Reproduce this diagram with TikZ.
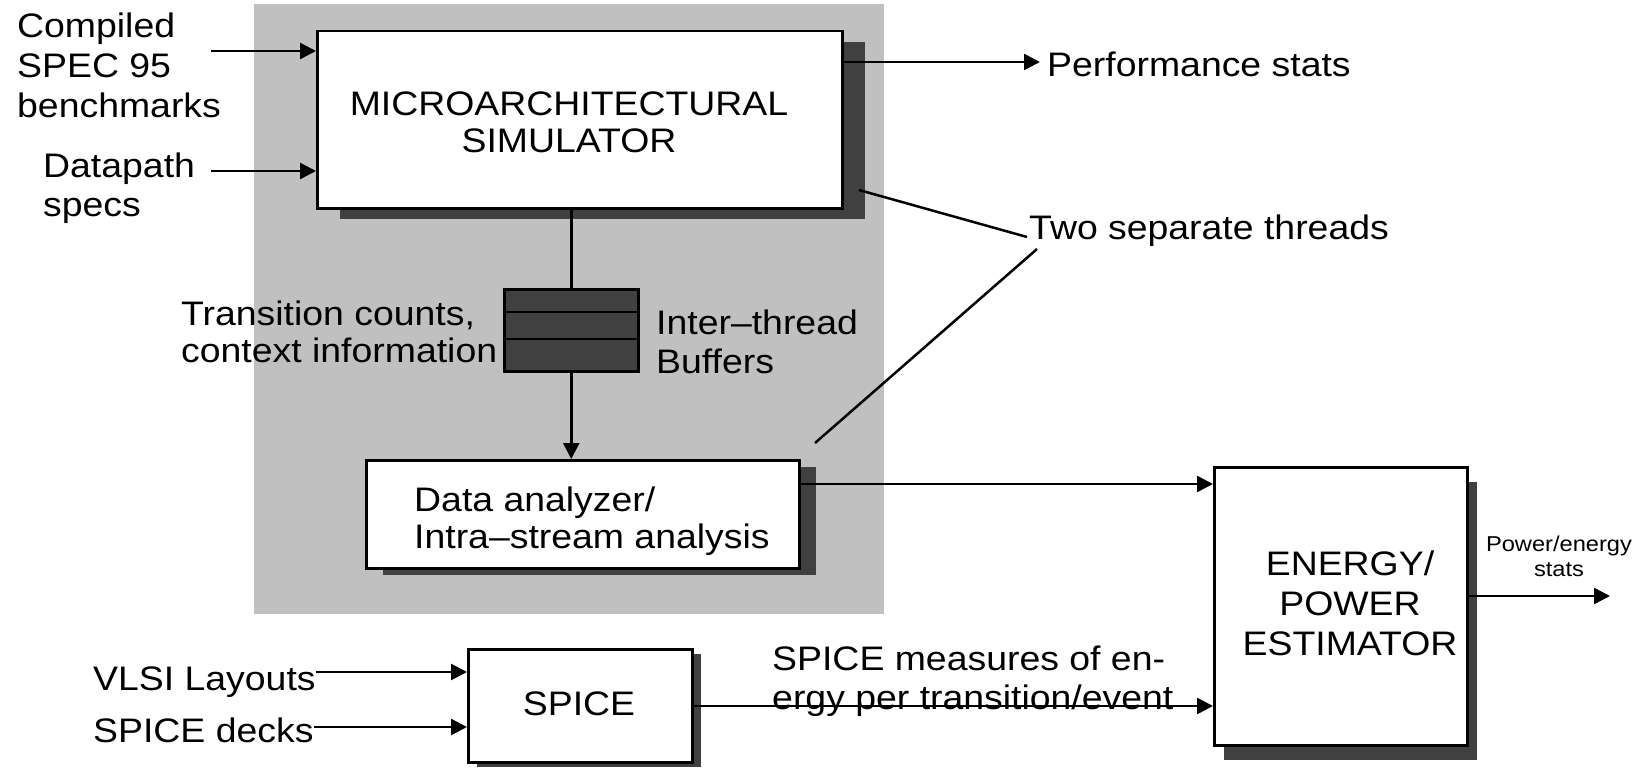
\documentclass[tikz,border=0pt]{standalone}
\usepackage{fontspec}
\setmainfont{Liberation Sans}[FakeStretch=1.1]
\usetikzlibrary{arrows.meta,shadows}
\definecolor{bggray}{HTML}{C0C0C0}
\definecolor{shadowc}{HTML}{404040}
\begin{document}
\begin{tikzpicture}[x=1pt,y=-1pt,
  box/.style={draw=black,fill=white,line width=2.5pt,inner sep=0pt,anchor=north west},
  lbl/.style={inner sep=0pt,font=\fontsize{34}{37}\selectfont,align=left,anchor=base west},
  clbl/.style={inner sep=0pt,font=\fontsize{34}{37}\selectfont,align=center,anchor=base},
  conn/.style={line width=2.5pt},
  arr/.style={line width=2.5pt,-{Triangle[length=16pt,width=16pt]}},
]
\useasboundingbox (0,0) rectangle (1646,768);
% background of the simulator thread region
\fill[bggray] (254,4) rectangle (884,614);

% boxes
\node[box,minimum width=525pt,minimum height=177pt,
  drop shadow={shadow xshift=23pt,shadow yshift=-11pt,opacity=1,fill=shadowc}] (micro) at (316,30) {};
\node[box,minimum width=433pt,minimum height=108pt,
  drop shadow={shadow xshift=17pt,shadow yshift=-7pt,opacity=1,fill=shadowc}] (data) at (365,459) {};
\node[box,minimum width=253pt,minimum height=278pt,
  drop shadow={shadow xshift=10pt,shadow yshift=-15pt,opacity=1,fill=shadowc}] (energy) at (1213,466) {};
\node[box,minimum width=224pt,minimum height=113pt,
  drop shadow={shadow xshift=9pt,shadow yshift=-5pt,opacity=1,fill=shadowc}] (spice) at (467,648) {};
\node[box,fill=shadowc,minimum width=134pt,minimum height=82pt] (buf) at (503,288) {};
\draw[conn] (503,312) -- (637,312);
\draw[conn] (503,339) -- (637,339);

% box texts (anchor = baseline of the last line)
\node[clbl] (microtxt) at (569,152) {MICROARCHITECTURAL\\SIMULATOR};
\node[lbl] (datatxt) at (414,548) {Data analyzer/\\Intra–stream analysis};
\node[clbl,font=\fontsize{34}{40}\selectfont] (energytxt) at (1350,655) {ENERGY/\\POWER\\ESTIMATOR};
\node[clbl] (spicetxt) at (579,715) {SPICE};

% labels
\node[lbl,font=\fontsize{34}{39.5}\selectfont] (compiled) at (17,117) {Compiled\\SPEC 95\\benchmarks};
\node[lbl,font=\fontsize{34}{39}\selectfont] (datapath) at (43,216) {Datapath\\specs};
\node[lbl] (trans) at (181,362) {Transition counts,\\context information};
\node[lbl,font=\fontsize{34}{39}\selectfont] (inter) at (656,373) {Inter–thread\\Buffers};
\node[lbl] (perf) at (1047,77) {Performance stats};
\node[lbl] (two) at (1029,239) {Two separate threads};
\node[lbl,font=\fontsize{34}{39}\selectfont] (meas) at (772,709) {SPICE measures of en-\\ergy per transition/event};
\node[clbl,font=\fontsize{21.5}{25}\selectfont] (pstats) at (1559,576) {Power/energy\\stats};
\node[lbl] (vlsi) at (93,690) {VLSI Layouts};
\node[lbl] (decks) at (93,742) {SPICE decks};

% connector coordinates
\coordinate (in1) at (211,51);
\coordinate (in2) at (211,171);
\coordinate (perftip) at (1040,62);
\coordinate (dataout) at (1213,484);
\coordinate (eout) at (1610,596);
\coordinate (spout) at (1213,706);
\coordinate (v1) at (467,672);
\coordinate (v2) at (467,727);
\coordinate (t1s) at (859,190);
\coordinate (t1e) at (1027,237);
\coordinate (t2s) at (815,443);
\coordinate (t2e) at (1037,249);

% connectors
\draw[arr] (in1) -- (micro.west |- in1);
\draw[arr] (in2) -- (micro.west |- in2);
\draw[arr] (micro.east |- perftip) -- (perftip);
\draw[conn] (micro.south -| buf.north) -- (buf.north);
\draw[arr] (buf.south) -- (buf.south |- data.north);
\draw[arr] (data.east |- dataout) -- (energy.west |- dataout);
\draw[arr] (energy.east |- eout) -- (eout);
\draw[arr] (spice.east |- spout) -- (energy.west |- spout);
\draw[arr] (vlsi.east |- v1) -- (spice.west |- v1);
\draw[arr] (decks.east |- v2) -- (spice.west |- v2);
\draw[conn] (t1s) -- (t1e);
\draw[conn] (t2s) -- (t2e);
\end{tikzpicture}
\end{document}
